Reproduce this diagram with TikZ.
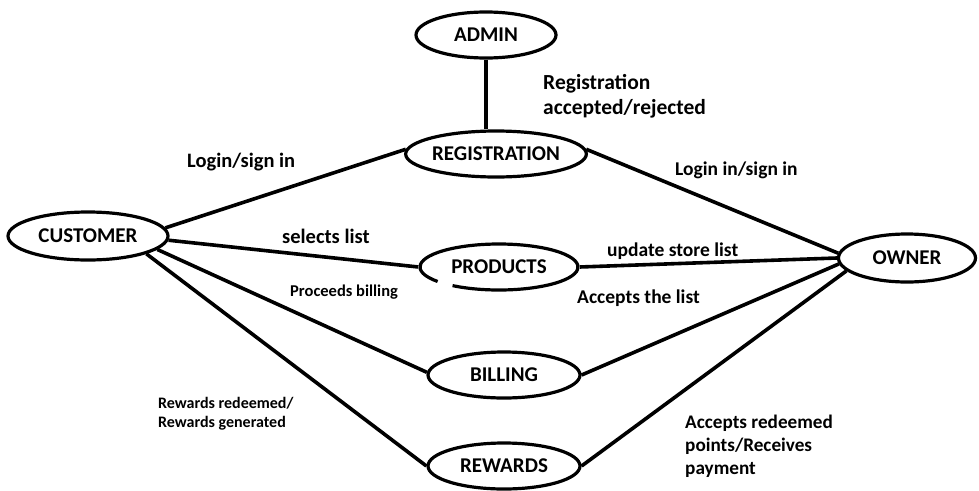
\documentclass[tikz,border=0pt]{standalone}
\usepackage{fontspec}
\setmainfont{Carlito}
\usetikzlibrary{shapes.geometric}
\tikzset{
  ent/.style={ellipse, line width=3.2pt, inner sep=0pt, font=\bfseries\fontsize{21}{21}\selectfont},
  rel/.style={line width=3.6pt},
  lbl/.style={font=\bfseries\fontsize{20.5}{25}\selectfont, align=left, anchor=west, inner sep=0pt},
  slbl/.style={lbl, font=\bfseries\fontsize{16}{19}\selectfont}
}

\begin{document}
\begin{tikzpicture}[x=1pt, y=-1pt] % {{{
\useasboundingbox (0,0) rectangle (979,490);
% Entities {{{
\node[ent, draw, minimum width=140, minimum height=46] (admin) at (486,35) {ADMIN};
\node[ent, draw, minimum width=158, minimum height=46] (regist) at (496,154) {REGISTRATION};
\node[ent, draw, minimum width=160, minimum height=48] (cust) at (88,236) {CUSTOMER};
\node[ent, minimum width=158, minimum height=46] (prod) at (499,267) {PRODUCTS};
\node[ent, draw, minimum width=137, minimum height=48] (owner) at (907,258) {OWNER};
\node[ent, draw, minimum width=152, minimum height=46] (bill) at (504,375) {BILLING};
\node[ent, draw, minimum width=152, minimum height=46] (reward) at (504,466) {REWARDS};
% products outline is broken at the bottom left
\draw[line width=3.2pt] (prod.center) ++(141:79 and 23) arc[start angle=141, end angle=486, x radius=79, y radius=23];
% }}}
% Relations {{{
\draw[rel] (admin.south) -- (admin.south |- regist.north);
\foreach \t/\a/\b/\c/\d in {regist/6/177/3/176, prod/-3/180/0/180, bill/-11/178/0/185, reward/-17/180/0/192} {
  \draw[rel] (cust.\a) -- (\t.\b);
  \draw[rel] (\t.\c) -- (owner.\d);
}
% }}}
% Labels {{{
\node[lbl, font=\bfseries\fontsize{21.5}{25}\selectfont] (l1) at (543,96) {Registration\\accepted/rejected};
\node[lbl] (l2) at (187,162) {Login/sign in};
\node[lbl, font=\bfseries\fontsize{19.5}{22}\selectfont] (l3) at (675,170) {Login in/sign in};
\node[lbl] (l4) at (282,236) {selects list};
\node[slbl, font=\bfseries\fontsize{16.5}{19}\selectfont] (l5) at (290,292) {Proceeds billing};
\node[lbl, font=\bfseries\fontsize{19.5}{22}\selectfont] (l6) at (607,251) {update store list};
\node[lbl, font=\bfseries\fontsize{19.5}{22}\selectfont] (l7) at (577,298) {Accepts the list};
\node[slbl] (l8) at (158,414) {Rewards redeemed/\\Rewards generated};
\node[lbl, font=\bfseries\fontsize{19.2}{23}\selectfont] (l9) at (685,446) {Accepts redeemed\\points/Receives\\payment};
% }}}
\end{tikzpicture} % }}}
\end{document}
